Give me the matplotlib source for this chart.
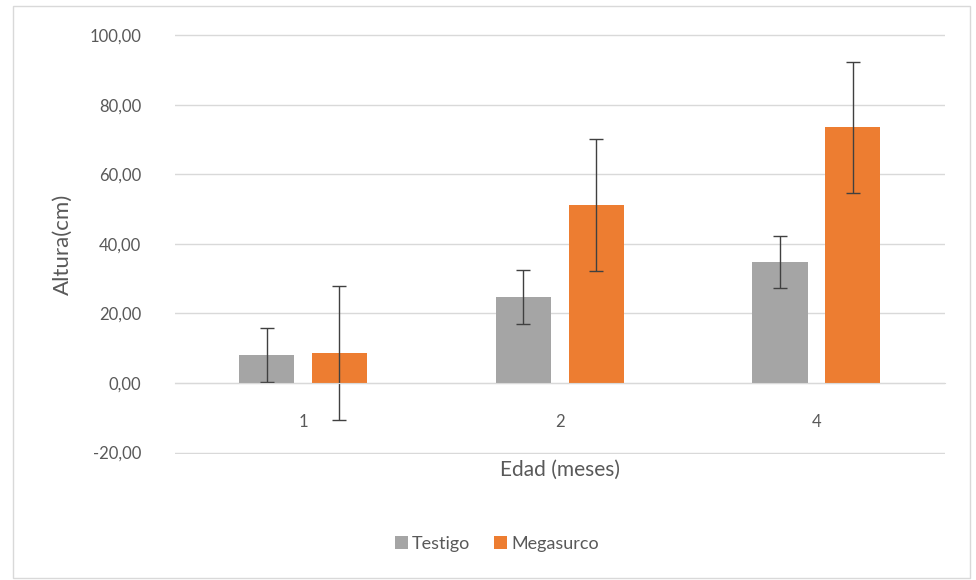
import numpy as np
from matplotlib import pyplot as plt
from matplotlib.patches import Rectangle
from matplotlib.ticker import FuncFormatter

categorias = ['1', '2', '4']
testigo = [8.0, 24.8, 34.9]
testigo_err = [7.8, 7.8, 7.5]
megasurco = [8.6, 51.1, 73.5]
megasurco_err = [19.2, 19.0, 18.9]

plt.rcParams['font.family'] = ['Lato', 'DejaVu Sans']

fig = plt.figure(figsize=(9.76, 5.8), dpi=100)
ax = fig.add_axes([0.179, 0.218, 0.789, 0.723])

fig.patches.append(Rectangle((0.013, 0.004), 0.981, 0.986, transform=fig.transFigure,
                             fill=False, edgecolor='#D9D9D9', lw=1))

x = np.arange(len(categorias))
w = 0.215
off = 0.142
ekw = dict(ecolor='#404040', elinewidth=1, capsize=5, capthick=1)
ax.bar(x - off, testigo, w, yerr=testigo_err, color='#A5A5A5', label='Testigo',
       error_kw=ekw, zorder=3)
ax.bar(x + off, megasurco, w, yerr=megasurco_err, color='#ED7D31', label='Megasurco',
       error_kw=ekw, zorder=3)

ax.set_xlim(-0.5, 2.5)
ax.set_ylim(-20.3, 100.3)
ax.set_yticks(np.arange(-20, 101, 20))
ax.yaxis.set_major_formatter(FuncFormatter(lambda v, p: f'{v:.2f}'.replace('.', ',')))
ax.set_xticks(x)
ax.set_xticklabels(categorias)
ax.grid(axis='y', color='#D9D9D9', lw=1, zorder=0)
for s in ['top', 'right', 'left']:
    ax.spines[s].set_visible(False)
ax.spines['bottom'].set_position(('data', 0))
ax.spines['bottom'].set_color('#D9D9D9')
ax.spines['bottom'].set_zorder(4)
ax.tick_params(axis='both', length=0, labelsize=12, colors='#595959')
ax.tick_params(axis='y', pad=24)
ax.tick_params(axis='x', pad=22)

ax.set_ylabel('Altura(cm)', fontsize=16, color='#595959', labelpad=12)
fig.text(0.574, 0.19, 'Edad (meses)', fontsize=15, color='#595959', ha='center', va='center')

fig.legend(loc='center', bbox_to_anchor=(0.509, 0.062), ncol=2, frameon=False, fontsize=13,
           handlelength=0.75, handleheight=0.75, handletextpad=0.2, columnspacing=1.3,
           labelcolor='#595959')

fig.savefig('out.png', dpi=100)
